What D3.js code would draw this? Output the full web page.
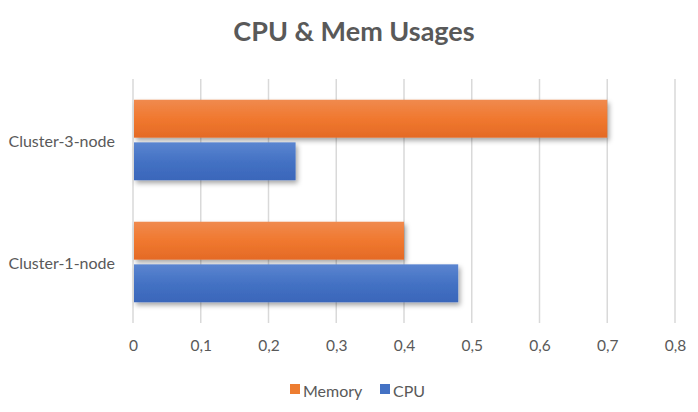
<!DOCTYPE html>
<html>
<head>
<meta charset="utf-8">
<script src="https://cdn.jsdelivr.net/npm/d3@7"></script>
<style>
  body { margin: 0; background: #fff; }
  text { font-family: Lato, "Open Sans", sans-serif; }
</style>
</head>
<body>
<svg id="canvas"></svg>
<script>
const categories = ['Cluster-3-node', 'Cluster-1-node'];
const seriesNames = ['Memory', 'CPU'];
const memoryValues = [0.70, 0.40];
const cpuValues = [0.24, 0.48];
const tickValues = [0, 0.1, 0.2, 0.3, 0.4, 0.5, 0.6, 0.7, 0.8];

const colors = { Memory: '#ED7D31', CPU: '#4472C4' };

let width = 698;
let height = 412;

let canvas = d3.select('#canvas')
    .attr('width', width)
    .attr('height', height);

const defs = canvas.append('defs');

// soft drop shadow like the office chart
const shadow = defs.append('filter')
    .attr('id', 'shadow')
    .attr('x', '-5%').attr('y', '-20%')
    .attr('width', '115%').attr('height', '160%');
shadow.append('feDropShadow')
    .attr('dx', 2).attr('dy', 3)
    .attr('stdDeviation', 2.5)
    .attr('flood-color', '#000')
    .attr('flood-opacity', 0.35);

const gradients = {
    Memory: ['#F08A4E', '#F0782F', '#E46A26'],
    CPU: ['#5B85D0', '#4472C4', '#3A66BA']
};
Object.keys(gradients).forEach(name => {
    const g = defs.append('linearGradient')
        .attr('id', 'grad-' + name)
        .attr('x1', 0).attr('y1', 0).attr('x2', 0).attr('y2', 1);
    gradients[name].forEach((c, i) => {
        g.append('stop').attr('offset', (i / 2 * 100) + '%').attr('stop-color', c);
    });
});

const xScale = d3.scaleLinear()
    .domain([0, 0.8])
    .range([133, 675]);

const yScale = d3.scaleBand()
    .domain(categories)
    .range([79, 323])
    .paddingInner(0.34)
    .paddingOuter(0.17);

const inner = d3.scaleBand()
    .domain(seriesNames)
    .range([0, yScale.bandwidth()])
    .paddingInner(0.11);

// title
canvas.append('text')
    .attr('x', 354)
    .attr('y', 41)
    .attr('text-anchor', 'middle')
    .attr('font-size', 27)
    .attr('font-weight', 'bold')
    .attr('fill', '#595959')
    .text('CPU & Mem Usages');

// grid
canvas.append('g')
    .selectAll('line')
    .data(tickValues)
    .enter()
    .append('line')
    .attr('x1', d => xScale(d))
    .attr('x2', d => xScale(d))
    .attr('y1', 79)
    .attr('y2', 323)
    .attr('stroke', '#D9D9D9')
    .attr('stroke-width', 1.5);

// x axis labels
const xAxis = d3.axisBottom(xScale)
    .tickValues(tickValues)
    .tickSize(0)
    .tickPadding(17)
    .tickFormat(d => d3.format('.1~f')(d).replace('.', ','));

const xg = canvas.append('g')
    .attr('transform', 'translate(0,323)')
    .call(xAxis);
xg.select('.domain').remove();
xg.selectAll('text')
    .attr('font-size', 15.5)
    .attr('fill', '#595959')
    .style('font-family', 'Lato, "Open Sans", sans-serif');

// y axis labels
const yAxis = d3.axisLeft(yScale)
    .tickSize(0)
    .tickPadding(18);
const yg = canvas.append('g')
    .attr('transform', 'translate(133,2)')
    .call(yAxis);
yg.select('.domain').remove();
yg.selectAll('text')
    .attr('font-size', 16)
    .attr('fill', '#595959')
    .style('font-family', 'Lato, "Open Sans", sans-serif');

// bars
const rows = categories.map((c, i) => ({
    category: c,
    values: [
        { name: 'Memory', value: memoryValues[i] },
        { name: 'CPU', value: cpuValues[i] }
    ]
}));

canvas.append('g')
    .selectAll('g')
    .data(rows)
    .enter()
    .append('g')
    .attr('transform', d => 'translate(0,' + yScale(d.category) + ')')
    .selectAll('rect')
    .data(d => d.values)
    .enter()
    .append('rect')
    .attr('x', xScale(0) + 1)
    .attr('y', d => inner(d.name))
    .attr('width', d => xScale(d.value) - xScale(0) - 1)
    .attr('height', inner.bandwidth())
    .attr('fill', d => 'url(#grad-' + d.name + ')')
    .attr('filter', 'url(#shadow)');

// legend
const legendItems = [
    { name: 'Memory', x: 290 },
    { name: 'CPU', x: 380 }
];
const legend = canvas.append('g')
    .selectAll('g')
    .data(legendItems)
    .enter()
    .append('g')
    .attr('transform', d => 'translate(' + d.x + ',384)');
legend.append('rect')
    .attr('width', 10)
    .attr('height', 10)
    .attr('fill', d => colors[d.name]);
legend.append('text')
    .attr('x', 13)
    .attr('y', 13)
    .attr('font-size', 16)
    .attr('fill', '#595959')
    .text(d => d.name);
</script>
</body>
</html>
